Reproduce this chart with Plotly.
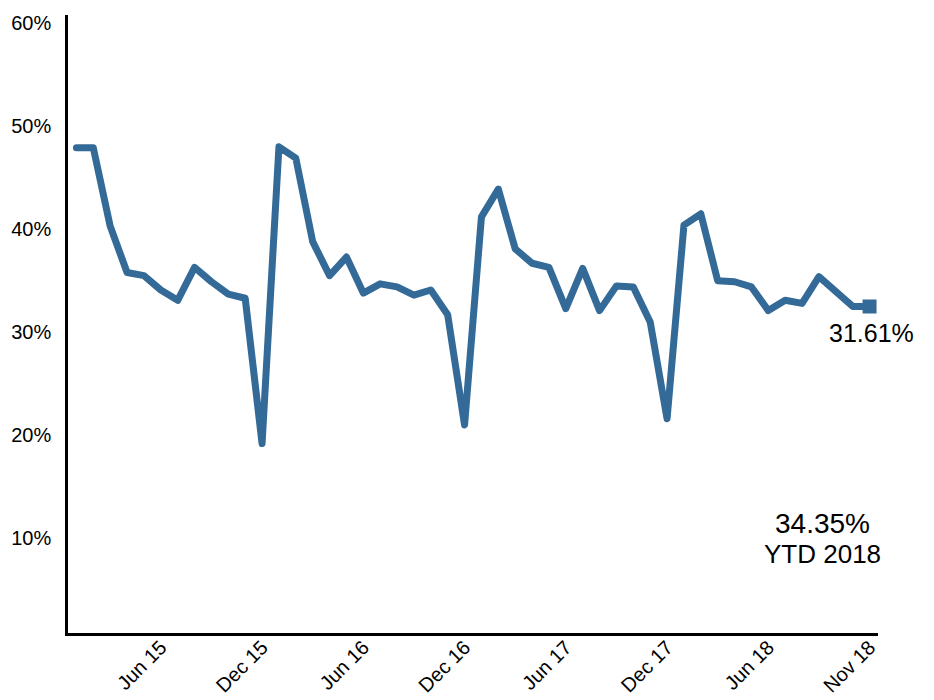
import plotly.graph_objects as go

# ---- data ----
x_pos = list(range(48))  # monthly positions, Jan 15 onward
values = [47.9, 47.9, 40.3, 35.8, 35.5, 34.1, 33.1, 36.3, 34.9, 33.7, 33.3, 19.2,
          48.0, 46.9, 38.8, 35.5, 37.3, 33.8, 34.7, 34.4, 33.6, 34.1, 31.7, 21.0,
          41.2, 43.9, 38.1, 36.7, 36.3, 32.3, 36.2, 32.1, 34.5, 34.4, 31.0, 21.6,
          40.4, 41.5, 35.0, 34.9, 34.4, 32.1, 33.1, 32.8, 35.4, 34.0, 32.5, 32.5]
tick_positions = [5, 11, 17, 23, 29, 35, 41, 47]
tick_labels = ["Jun 15", "Dec 15", "Jun 16", "Dec 16", "Jun 17", "Dec 17", "Jun 18", "Nov 18"]
y_ticks = [10, 20, 30, 40, 50, 60]
y_tick_labels = ["10%", "20%", "30%", "40%", "50%", "60%"]
last_label = "31.61%"
ytd_value = "34.35%"
ytd_label = "YTD 2018"

LINE = "#346a97"
FONT = "Arial, Liberation Sans, sans-serif"

fig = go.Figure()
fig.add_trace(go.Scatter(x=x_pos, y=values, mode="lines",
                         line=dict(color=LINE, width=7), hoverinfo="skip"))
fig.add_trace(go.Scatter(x=[x_pos[-1]], y=[values[-1]], mode="markers",
                         marker=dict(symbol="square", size=14, color=LINE), hoverinfo="skip"))

fig.add_annotation(x=0.992, y=0.485, xref="paper", yref="paper", text=last_label,
                   showarrow=False, xanchor="center", yanchor="middle",
                   font=dict(family=FONT, size=25, color="black"))
fig.add_annotation(x=0.931, y=0.177, xref="paper", yref="paper", text=ytd_value,
                   showarrow=False, xanchor="center", yanchor="middle",
                   font=dict(family=FONT, size=28, color="black"))
fig.add_annotation(x=0.931, y=0.128, xref="paper", yref="paper", text=ytd_label,
                   showarrow=False, xanchor="center", yanchor="middle",
                   font=dict(family=FONT, size=26, color="black"))

fig.update_layout(
    width=934, height=700,
    margin=dict(l=68, r=56, t=15, b=67),
    paper_bgcolor="white", plot_bgcolor="white",
    showlegend=False,
    font=dict(family=FONT, size=20, color="black"),
    xaxis=dict(range=[-0.5, 47.5], tickmode="array", tickvals=tick_positions,
               ticktext=tick_labels, tickangle=-45, showgrid=False, zeroline=False,
               showline=True, linecolor="black", linewidth=2.5, ticks="",
               automargin=False, ticklabelstandoff=-8,
               tickfont=dict(family=FONT, size=20, color="black")),
    yaxis=dict(range=[0.8, 60.8], tickmode="array", tickvals=y_ticks,
               ticktext=y_tick_labels, showgrid=False, zeroline=False,
               showline=True, linecolor="black", linewidth=2.5, ticks="",
               ticklabelstandoff=10, automargin=False,
               tickfont=dict(family=FONT, size=20, color="black")),
)

fig.write_html("out.html", config={"displayModeBar": False},
               post_script="document.body.style.margin='0';document.documentElement.style.overflow='hidden';"
                           "document.querySelectorAll('.scatterlayer path.js-line').forEach(function(p){p.style.strokeLinejoin='round';p.style.strokeLinecap='round';});")
